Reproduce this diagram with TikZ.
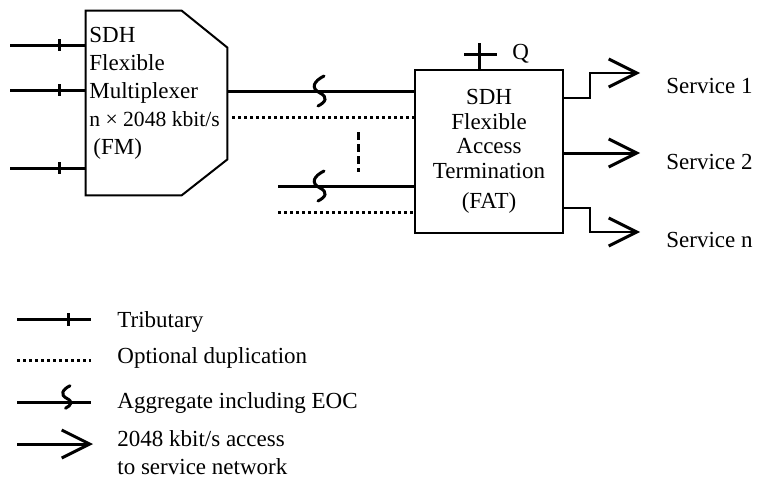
\documentclass[tikz,border=0pt]{standalone}
\usepackage{fontspec}
\setmainfont{Liberation Serif}
\usetikzlibrary{arrows.meta,calc}

\tikzset{
  eoc/.pic={\draw[line width=1.5pt,line cap=round] (4,-15) .. controls (-6,-10) and (-10,-3) .. (0,2) .. controls (8,6) and (6,11) .. (-2,15);},
}

\begin{document}
\begin{tikzpicture}[x=0.5pt,y=-0.5pt,font=\fontsize{11.5}{14}\selectfont,
  trib/.style={line width=1.5pt},
  dup/.style={line width=1.5pt,dash pattern=on 1.5pt off 1.5pt},
  svc/.style={line width=1pt,-{Straight Barb[length=14pt,width=14pt,line width=1.5pt]}},
  box/.style={draw,line width=1pt,inner sep=0pt},
  txt/.style={inner sep=0pt}]
\useasboundingbox (0,0) rectangle (758,477);

% flexible multiplexer
\node[txt,minimum width=70.5pt,minimum height=92pt] (fm) at (156.5,103) {};
\draw[line width=1pt] (fm.north west) -- ++(96,0) -- ($(fm.north east)+(0,37)$)
  -- ($(fm.south east)+(0,-36)$) -- ($(fm.south west)+(96,0)$) -- (fm.south west) -- cycle;
\node[txt,anchor=north west,align=left] (fmtext) at (89,27)
  {SDH\\Flexible\\Multiplexer\\{\fontsize{10.8}{14}\selectfont n × 2048 kbit/s}\\\hspace{2pt}(FM)};

% access termination
\node[box,minimum width=74pt,minimum height=81.5pt,align=center,
  font=\fontsize{11.5}{12.25}\selectfont] (fat) at (489,151.5)
  {SDH\\Flexible\\Access\\Termination\\[2.75pt](FAT)};

% tributaries
\foreach \y/\n in {45/t1,90/t2,168/t3}{
  \coordinate (\n) at (10,\y);
  \draw[trib] (\n) -- (\n -| fm.west);
  \draw[trib] (59,\y-6) -- (59,\y+6);
}

% aggregates
\draw[trib] (fm.east |- 0,91) -- (fat.west |- 0,91);
\pic at (320,91) {eoc};
\coordinate (d1) at (232,117);
\draw[dup] (d1) -- (d1 -| fat.west);
\draw[line width=1.5pt,dash pattern=on 4pt off 2pt] (358,132) -- (358,172);
\coordinate (a2) at (278,186);
\draw[trib] (a2) -- (a2 -| fat.west);
\pic at (320,186) {eoc};
\coordinate (d2) at (278,212);
\draw[dup] (d2) -- (d2 -| fat.west);

% Q interface
\coordinate (qc) at (479,54);
\draw[trib] (qc |- fat.north) -- (479,43);
\draw[trib] (464,54) -- (497,54);
\node[txt,anchor=west] (q) at (512,54) {Q};

% services
\coordinate (s1) at (640,73);
\coordinate (s2) at (640,153);
\coordinate (sn) at (640,232);
\draw[svc] (fat.east |- 0,98) -- (590,98) |- (s1);
\draw[svc,line width=1.5pt] (fat.east |- s2) -- (s2);
\draw[svc] (fat.east |- 0,208) -- (590,208) |- (sn);
\node[txt,anchor=base west] (srv1) at (666,93) {Service 1};
\node[txt,anchor=base west] (srv2) at (666,169) {Service 2};
\node[txt,anchor=base west] (srvn) at (666,247) {Service n};

% legend
\draw[trib] (17,319) -- (91,319);
\draw[trib] (68,313) -- (68,326);
\node[txt,anchor=base west] (ltrib) at (117,327) {Tributary};
\draw[dup] (17,360) -- (91,360);
\node[txt,anchor=base west] (ldup) at (117,363) {Optional duplication};
\draw[trib] (17,402) -- (91,402);
\pic[scale=0.75] at (67,397) {eoc};
\node[txt,anchor=base west] (lagg) at (117,408) {Aggregate including EOC};
\coordinate (l4) at (17,444);
\draw[svc,line width=1.5pt] (l4) -- ++(76,0);
\node[txt,anchor=north west,align=left] (lsvc) at (117,430) {2048 kbit/s access\\to service network};
\end{tikzpicture}
\end{document}
